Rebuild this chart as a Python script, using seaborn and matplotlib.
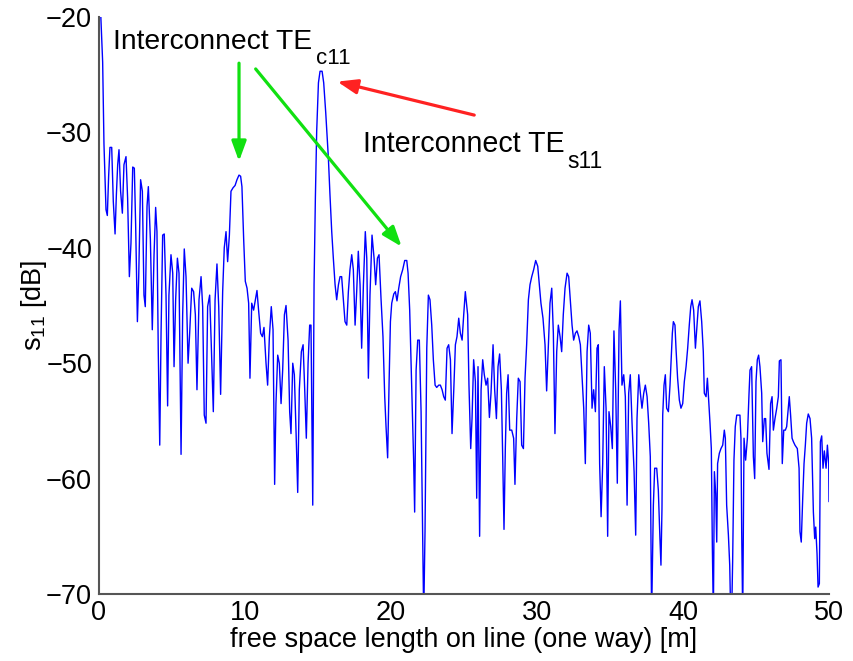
import matplotlib
matplotlib.use("Agg")
import matplotlib.pyplot as plt
import seaborn as sns
import pandas as pd

# ---- data ----
distance_m = [
    0.11, 0.25, 0.34, 0.48, 0.57, 0.66, 0.75, 0.87, 0.98, 1.10, 1.19, 1.28, 1.37, 1.48, 1.60, 1.71,
    1.85, 1.96, 2.08, 2.19, 2.31, 2.42, 2.51, 2.63, 2.72, 2.85, 2.97, 3.08, 3.17, 3.29, 3.38, 3.52,
    3.65, 3.77, 3.88, 3.97, 4.06, 4.16, 4.25, 4.36, 4.47, 4.59, 4.70, 4.79, 4.93, 5.05, 5.14, 5.25,
    5.37, 5.48, 5.62, 5.73, 5.84, 5.96, 6.10, 6.21, 6.35, 6.48, 6.60, 6.71, 6.85, 6.99, 7.10, 7.21,
    7.33, 7.44, 7.58, 7.69, 7.83, 7.95, 8.08, 8.20, 8.33, 8.47, 8.58, 8.70, 8.81, 8.93, 9.04, 9.18,
    9.32, 9.45, 9.59, 9.70, 9.79, 9.91, 10.02, 10.14, 10.25, 10.34, 10.46, 10.59, 10.71, 10.82, 10.93,
    11.07, 11.19, 11.30, 11.44, 11.55, 11.67, 11.80, 11.92, 12.03, 12.12, 12.24, 12.35, 12.47, 12.58,
    12.70, 12.81, 12.95, 13.06, 13.15, 13.27, 13.38, 13.50, 13.61, 13.72, 13.86, 13.98, 14.09, 14.20,
    14.32, 14.43, 14.52, 14.64, 14.73, 14.82, 14.91, 15.03, 15.14, 15.28, 15.39, 15.53, 15.71, 15.82,
    15.94, 16.05, 16.17, 16.28, 16.40, 16.51, 16.62, 16.74, 16.85, 16.97, 17.08, 17.19, 17.31, 17.42,
    17.54, 17.65, 17.76, 17.88, 17.99, 18.11, 18.24, 18.34, 18.45, 18.56, 18.70, 18.84, 18.95, 19.07,
    19.18, 19.32, 19.45, 19.57, 19.66, 19.77, 19.87, 19.96, 20.05, 20.19, 20.30, 20.41, 20.53, 20.66,
    20.80, 20.94, 21.08, 21.17, 21.28, 21.42, 21.55, 21.62, 21.72, 21.83, 21.94, 22.06, 22.17, 22.24,
    22.33, 22.45, 22.56, 22.67, 22.79, 22.90, 23.02, 23.13, 23.27, 23.38, 23.50, 23.61, 23.72, 23.84,
    23.95, 24.07, 24.18, 24.30, 24.41, 24.52, 24.64, 24.75, 24.87, 24.98, 25.09, 25.25, 25.34, 25.46,
    25.55, 25.66, 25.78, 25.87, 25.96, 26.07, 26.17, 26.28, 26.39, 26.51, 26.62, 26.74, 26.85, 26.99,
    27.10, 27.22, 27.33, 27.44, 27.56, 27.65, 27.74, 27.83, 27.92, 28.02, 28.13, 28.27, 28.40, 28.49,
    28.61, 28.72, 28.84, 28.95, 29.07, 29.18, 29.29, 29.41, 29.52, 29.64, 29.77, 29.91, 30.05, 30.14,
    30.27, 30.41, 30.55, 30.66, 30.78, 30.89, 31.01, 31.12, 31.23, 31.35, 31.46, 31.58, 31.69, 31.80,
    31.92, 32.06, 32.17, 32.28, 32.40, 32.51, 32.63, 32.74, 32.86, 32.97, 33.08, 33.20, 33.31, 33.43,
    33.54, 33.65, 33.77, 33.88, 34.00, 34.11, 34.20, 34.29, 34.39, 34.50, 34.61, 34.73, 34.84, 34.93,
    35.05, 35.16, 35.27, 35.39, 35.50, 35.62, 35.71, 35.82, 35.94, 36.05, 36.17, 36.28, 36.39, 36.51,
    36.65, 36.76, 36.85, 36.97, 37.08, 37.19, 37.31, 37.42, 37.54, 37.65, 37.76, 37.85, 37.97, 38.06,
    38.20, 38.31, 38.42, 38.49, 38.56, 38.61, 38.70, 38.79, 38.88, 39.00, 39.11, 39.20, 39.27, 39.34,
    39.45, 39.52, 39.63, 39.75, 39.86, 39.98, 40.09, 40.21, 40.32, 40.43, 40.53, 40.62, 40.73, 40.85,
    40.94, 41.05, 41.16, 41.28, 41.39, 41.46, 41.58, 41.67, 41.76, 41.85, 41.94, 42.01, 42.08, 42.15,
    42.24, 42.31, 42.37, 42.49, 42.60, 42.72, 42.83, 42.90, 42.99, 43.11, 43.20, 43.27, 43.33, 43.40,
    43.49, 43.58, 43.68, 43.79, 43.90, 43.97, 44.02, 44.09, 44.18, 44.29, 44.41, 44.52, 44.59, 44.70,
    44.82, 44.91, 45.00, 45.09, 45.18, 45.27, 45.39, 45.46, 45.57, 45.66, 45.75, 45.89, 46.00, 46.10,
    46.19, 46.30, 46.42, 46.53, 46.60, 46.71, 46.80, 46.90, 47.01, 47.10, 47.21, 47.28, 47.37, 47.47,
    47.56, 47.67, 47.83, 47.95, 48.01, 48.10, 48.20, 48.29, 48.38, 48.47, 48.58, 48.70, 48.81, 48.93,
    49.02, 49.09, 49.18, 49.25, 49.34, 49.41, 49.50, 49.59, 49.68, 49.80, 49.89, 49.98, 50.00,
]

s11_db = [
    -19.5, -23.9, -31.0, -36.7, -37.2, -33.8, -31.3, -31.3, -36.0, -38.8, -35.4, -32.8, -31.5, -35.1, -37.0, -32.8,
    -32.1, -35.7, -42.5, -39.6, -33.0, -33.1, -38.0, -46.4, -42.5, -34.1, -35.1, -44.1, -45.1, -36.4, -34.7, -39.3,
    -47.1, -40.6, -36.5, -38.6, -49.0, -57.1, -47.4, -38.9, -38.8, -44.1, -53.7, -44.1, -40.6, -42.2, -50.3, -44.5,
    -40.9, -42.2, -57.9, -45.8, -40.1, -42.5, -50.0, -47.4, -43.5, -43.8, -45.8, -52.3, -44.5, -42.5, -45.1, -54.5,
    -55.2, -45.1, -44.1, -48.4, -54.2, -44.5, -41.4, -45.1, -52.7, -43.8, -40.0, -38.6, -41.2, -38.9, -35.1, -34.8,
    -34.6, -34.1, -33.7, -33.8, -34.7, -39.3, -42.9, -43.5, -44.8, -51.3, -44.8, -45.4, -44.5, -43.7, -45.4,
    -47.4, -47.7, -46.9, -50.0, -51.9, -47.7, -45.1, -47.1, -60.5, -53.5, -49.3, -50.0, -53.5, -50.6,
    -45.8, -45.0, -48.0, -54.2, -56.1, -50.0, -51.0, -56.1, -61.2, -52.3, -49.0, -48.4, -52.3, -56.5,
    -50.0, -46.7, -46.7, -62.3, -43.2, -35.7, -29.9, -25.7, -24.7, -24.7, -25.7, -28.3, -32.2, -35.4,
    -38.6, -40.9, -43.2, -44.5, -43.2, -42.5, -42.5, -44.5, -46.4, -46.7, -43.8, -41.9, -40.6, -41.9,
    -46.7, -43.8, -40.3, -43.2, -48.7, -43.2, -38.6, -40.9, -51.3, -44.1, -38.9, -40.9, -43.2, -40.9,
    -40.6, -44.5, -47.7, -52.9, -55.5, -58.2, -51.6, -46.4, -44.8, -44.0, -43.8, -44.6, -43.5, -42.5,
    -41.9, -41.1, -41.1, -42.2, -45.4, -52.3, -58.4, -62.9, -50.6, -48.0, -48.0, -54.2, -65.2, -72.0,
    -64.6, -48.7, -44.1, -44.5, -46.7, -49.7, -51.9, -52.1, -51.9, -51.9, -52.3, -52.9, -53.2, -48.7,
    -48.4, -49.7, -56.1, -52.3, -48.4, -47.7, -46.1, -47.4, -48.0, -45.8, -43.8, -45.8, -51.9, -57.4,
    -54.8, -49.7, -51.6, -61.7, -50.3, -65.0, -52.3, -49.7, -51.0, -51.9, -51.3, -54.7, -52.6, -48.4,
    -52.3, -54.8, -50.3, -49.2, -52.3, -58.1, -64.4, -57.4, -52.6, -51.0, -55.8, -55.8, -56.5, -60.5,
    -54.8, -51.3, -51.6, -57.1, -57.4, -51.3, -48.4, -44.5, -43.2, -42.5, -41.9, -41.1, -41.6, -42.9,
    -44.8, -46.1, -48.4, -52.4, -48.4, -44.8, -43.5, -47.4, -56.1, -49.0, -46.7, -47.7, -49.0, -45.8,
    -43.5, -42.2, -42.5, -44.5, -46.7, -48.0, -47.4, -47.2, -47.7, -48.4, -51.0, -53.9, -58.7, -49.0,
    -46.7, -47.4, -53.9, -52.3, -54.2, -48.7, -48.4, -58.7, -63.3, -58.7, -50.3, -53.9, -65.0, -54.2,
    -55.5, -57.4, -47.2, -52.3, -60.4, -47.1, -44.6, -51.9, -51.0, -52.9, -62.3, -52.6, -51.0, -55.2,
    -59.4, -64.9, -54.8, -51.0, -52.6, -53.9, -52.6, -51.9, -52.9, -55.2, -58.1, -72.0, -62.3, -59.1,
    -59.1, -61.0, -65.2, -67.5, -62.6, -54.5, -51.9, -51.0, -53.9, -54.2, -51.9, -49.3, -47.4, -46.4,
    -46.7, -48.7, -51.3, -53.2, -53.9, -53.5, -51.6, -50.3, -48.7, -46.7, -45.1, -44.5, -45.4, -48.7,
    -47.1, -45.1, -44.6, -46.4, -49.0, -52.6, -52.9, -51.3, -53.2, -55.2, -57.4, -65.9, -72.0, -59.4,
    -61.3, -65.5, -58.7, -57.8, -57.4, -57.1, -55.8, -56.5, -62.3, -64.9, -67.5, -72.0, -72.0, -67.2,
    -58.4, -55.5, -54.5, -54.5, -54.5, -56.5, -64.6, -72.0, -56.5, -58.4, -56.5, -52.7, -50.6, -50.3,
    -58.1, -60.0, -51.6, -49.7, -49.3, -50.3, -52.6, -56.8, -54.8, -54.8, -57.8, -59.2, -53.5, -52.9,
    -55.8, -54.8, -53.9, -52.9, -49.8, -49.7, -58.7, -55.8, -55.8, -55.5, -53.9, -52.9, -54.5, -56.5,
    -56.8, -57.1, -57.4, -59.1, -64.6, -65.5, -61.7, -58.7, -57.1, -55.2, -54.4, -54.8, -56.5, -62.9,
    -65.2, -64.2, -66.5, -69.4, -69.1, -56.8, -56.3, -59.1, -57.6, -59.1, -57.1, -58.7, -62.0,
]

x_ticks = [0, 10, 20, 30, 40, 50]
y_ticks = [-70, -60, -50, -40, -30, -20]

label_c11 = "Interconnect TE"
sub_c11 = "c11"
label_s11 = "Interconnect TE"
sub_s11 = "s11"

df = pd.DataFrame({"distance": distance_m, "s11": s11_db})

sns.set_theme(style="white")
plt.rcParams["font.family"] = ["Liberation Sans", "DejaVu Sans"]
plt.rcParams["mathtext.fontset"] = "custom"
plt.rcParams["mathtext.rm"] = "Liberation Sans"
plt.rcParams["mathtext.it"] = "Liberation Sans"
plt.rcParams["text.color"] = "black"
plt.rcParams["axes.labelcolor"] = "black"

fig = plt.figure(figsize=(8.54, 6.61), dpi=100)
ax = fig.add_axes([99 / 854, 1 - 594 / 661, 730 / 854, 577 / 661])

sns.lineplot(data=df, x="distance", y="s11", ax=ax, color="#0000ff",
             linewidth=1.0, estimator=None, sort=False)

ax.set_xlim(0, 50)
ax.set_ylim(-70, -20)
ax.set_xticks(x_ticks)
ax.set_yticks(y_ticks)
ax.tick_params(direction="in", length=6, width=1.2, color="#444444",
               labelsize=19.5, pad=5, labelcolor="black")
ax.tick_params(axis="x", pad=4)
for side in ["top", "right"]:
    ax.spines[side].set_visible(False)
for side in ["left", "bottom"]:
    ax.spines[side].set_color("#555555")
    ax.spines[side].set_linewidth(1.5)

ax.set_xlabel("free space length on line (one way) [m]", fontsize=19.5,
              labelpad=1, color="black")
ax.set_ylabel(r"s$_{\mathregular{11}}$ [dB]", fontsize=19.5, labelpad=-2,
              color="black")

# annotation texts
ax.text(0.96, -22.8, label_c11, fontsize=20.3, ha="left", va="baseline", color="black")
ax.text(14.86, -24.1, sub_c11, fontsize=16, ha="left", va="baseline", color="black")
ax.text(18.05, -31.7, label_s11, fontsize=20.6, ha="left", va="baseline", color="black")
ax.text(32.1, -33.1, sub_s11, fontsize=16.5, ha="left", va="baseline", color="black")

green = "#11e011"
red = "#ff2222"
style = "-|>,head_length=0.6,head_width=0.22"
ax.annotate("", xy=(9.59, -32.5), xytext=(9.59, -24.0),
            arrowprops=dict(arrowstyle=style, color=green, lw=2.3,
                            mutation_scale=20, shrinkA=0, shrinkB=0))
ax.annotate("", xy=(20.73, -39.9), xytext=(10.73, -24.5),
            arrowprops=dict(arrowstyle=style, color=green, lw=2.3,
                            mutation_scale=20, shrinkA=0, shrinkB=0))
ax.annotate("", xy=(16.32, -25.6), xytext=(25.7, -28.5),
            arrowprops=dict(arrowstyle=style, color=red, lw=2.3,
                            mutation_scale=20, shrinkA=0, shrinkB=0))

fig.savefig("out.png", dpi=100, facecolor="white")
